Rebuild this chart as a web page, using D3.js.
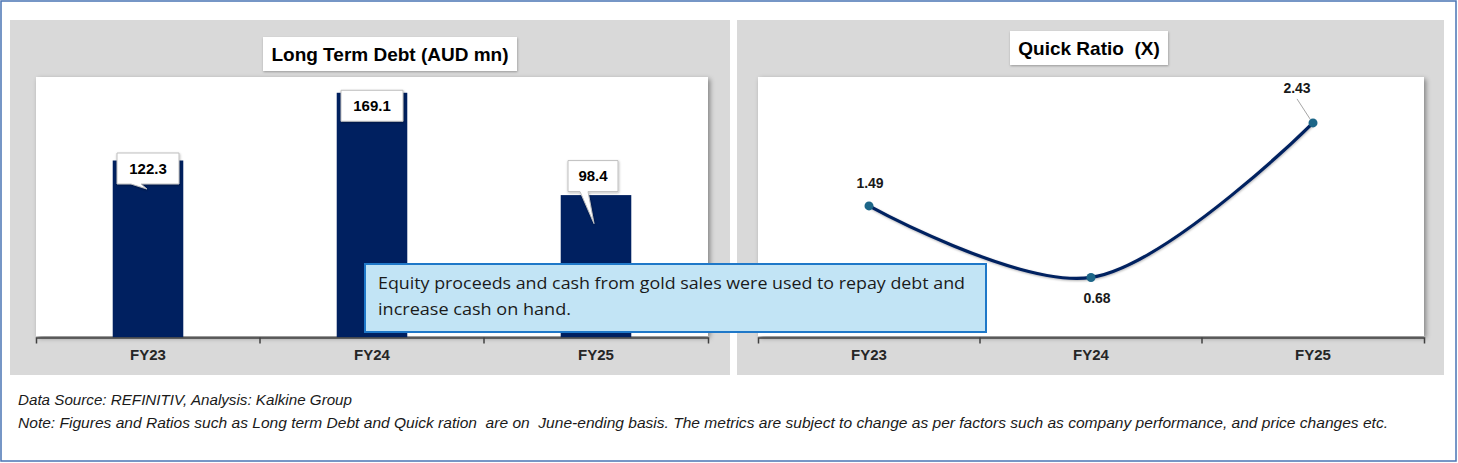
<!DOCTYPE html>
<html>
<head>
<meta charset="utf-8">
<script src="https://cdn.jsdelivr.net/npm/d3@7"></script>
<style>
  body { margin: 0; background: #fff; }
  svg { display: block; }
  text { white-space: pre; }
</style>
</head>
<body>
<svg id="chart"></svg>
<script>
// data
var years = ["FY23", "FY24", "FY25"];
var debt = [122.3, 169.1, 98.4];
var quick = [1.49, 0.68, 2.43];
var debtLabels = ["122.3", "169.1", "98.4"];
var quickLabels = ["1.49", "0.68", "2.43"];
var debtTitle = "Long Term Debt (AUD mn)";
var quickTitle = "Quick Ratio  (X)";
var noteLines = ["Equity proceeds and cash from gold sales were used to repay debt and",
                 "increase cash on hand."];
var footerLines = ["Data Source: REFINITIV, Analysis: Kalkine Group",
                   "Note: Figures and Ratios such as Long term Debt and Quick ration  are on  June-ending basis. The metrics are subject to change as per factors such as company performance, and price changes etc."];

var W = 1458, H = 463;
var narrow = "'Liberation Sans Narrow', 'Arial Narrow', 'Liberation Sans', sans-serif";
var sans = "'Liberation Sans', Arial, sans-serif";
var navy = "#002060";

var svg = d3.select("#chart").attr("width", W).attr("height", H);

// schaduw
var defs = svg.append("defs");
var f = defs.append("filter").attr("id", "shadow")
    .attr("x", "-5%").attr("y", "-5%").attr("width", "110%").attr("height", "115%");
f.append("feDropShadow").attr("dx", 2).attr("dy", 2).attr("stdDeviation", 2.5)
    .attr("flood-color", "#000").attr("flood-opacity", 0.4);
var f2 = defs.append("filter").attr("id", "soft")
    .attr("x", "-20%").attr("y", "-20%").attr("width", "140%").attr("height", "140%");
f2.append("feDropShadow").attr("dx", 0.5).attr("dy", 1).attr("stdDeviation", 1)
    .attr("flood-color", "#000").attr("flood-opacity", 0.3);

// rand van de afbeelding
svg.append("rect")
    .attr("x", 1).attr("y", 1).attr("width", W - 3).attr("height", H - 3)
    .attr("fill", "#fff").attr("stroke", "#4a74b4").attr("stroke-width", 1.5);

// panelen
var left = {gx: 10, gy: 20, gw: 720, gh: 355, px: 36, py: 77, pw: 672, ph: 259,
            tx: 263, ty: 37, tw: 254, th: 34};
var right = {gx: 737, gy: 20, gw: 707, gh: 355, px: 758, py: 77, pw: 666, ph: 259,
             tx: 1010, ty: 31, tw: 158, th: 34};
var axisY = 337.5;

function panel(p, title) {
  svg.append("rect").attr("x", p.gx).attr("y", p.gy).attr("width", p.gw).attr("height", p.gh)
      .attr("fill", "#d9d9d9");
  svg.append("rect").attr("x", p.px).attr("y", p.py).attr("width", p.pw).attr("height", p.ph)
      .attr("fill", "#fff").attr("filter", "url(#shadow)");
  svg.append("rect").attr("x", p.tx).attr("y", p.ty).attr("width", p.tw).attr("height", p.th)
      .attr("fill", "#fff").attr("filter", "url(#soft)");
  svg.append("text")
      .attr("x", p.tx + p.tw / 2).attr("y", p.ty + p.th / 2)
      .attr("dy", "0.36em")
      .attr("text-anchor", "middle")
      .attr("font-family", narrow).attr("font-weight", "bold").attr("font-size", 19)
      .attr("fill", "#000")
      .text(title);
}

function xAxis(x, p) {
  var g = svg.append("g")
      .attr("transform", "translate(0," + axisY + ")")
      .call(d3.axisBottom(x).tickSize(0).tickSizeOuter(6).tickPadding(12));
  g.select(".domain").attr("stroke", "#404040").attr("stroke-width", 1.5);
  g.selectAll("text")
      .attr("font-family", narrow).attr("font-weight", "bold").attr("font-size", 15)
      .attr("fill", "#262626");
  // ticks op de grenzen tussen categorieen
  g.selectAll(".grens")
      .data(years.slice(1))
      .enter().append("line")
      .attr("x1", function(d) { return x(d); })
      .attr("x2", function(d) { return x(d); })
      .attr("y1", 0).attr("y2", 6)
      .attr("stroke", "#404040").attr("stroke-width", 1.5);
}

// ---------- linker grafiek: staafdiagram ----------
panel(left, debtTitle);

var xL = d3.scaleBand().domain(years).range([left.px, left.px + left.pw]).padding(0);
var yL = d3.scaleLinear().domain([0, 180]).range([axisY, left.py]);
var barW = xL.bandwidth() * 0.315;

svg.selectAll(".bar")
    .data(debt)
    .enter().append("rect")
    .attr("class", "bar")
    .attr("x", function(d, i) { return xL(years[i]) + xL.bandwidth() / 2 - barW / 2; })
    .attr("y", function(d) { return yL(d); })
    .attr("width", barW)
    .attr("height", function(d) { return yL(0) - yL(d); })
    .attr("fill", navy);

xAxis(xL, left);

// data labels als tekstballon (handmatig geplaatst zoals in Excel)
var callout = [
  {dx: 0, dy: 8, w: 62, h: 31, tail: [14, 24, 30, 5]},
  {dx: 0, dy: 13, w: 62, h: 31, tail: null},
  {dx: -3, dy: -19, w: 50, h: 31, tail: [12, 20, 26, 32]}
];

debt.forEach(function(d, i) {
  var c = callout[i];
  var cx = xL(years[i]) + xL.bandwidth() / 2 + c.dx;
  var cy = yL(d) + c.dy;
  var x0 = cx - c.w / 2, x1 = cx + c.w / 2, y0 = cy - c.h / 2, y1 = cy + c.h / 2;
  var path;
  if (c.tail) {
    path = "M" + x0 + "," + y0 + "H" + x1 + "V" + y1 +
           "H" + (x0 + c.tail[1]) + "L" + (x0 + c.tail[2]) + "," + (y1 + c.tail[3]) +
           "L" + (x0 + c.tail[0]) + "," + y1 + "H" + x0 + "Z";
  } else {
    path = "M" + x0 + "," + y0 + "H" + x1 + "V" + y1 + "H" + x0 + "Z";
  }
  svg.append("path").attr("d", path)
      .attr("fill", "#fff").attr("stroke", "#bfbfbf").attr("stroke-width", 1)
      .attr("filter", "url(#soft)");
  svg.append("text")
      .attr("x", cx).attr("y", cy).attr("dy", "0.36em")
      .attr("text-anchor", "middle")
      .attr("font-family", sans).attr("font-weight", "bold").attr("font-size", 15)
      .attr("fill", "#000")
      .text(debtLabels[i]);
});

// ---------- rechter grafiek: lijn ----------
panel(right, quickTitle);

var xR = d3.scaleBand().domain(years).range([right.px, right.px + right.pw]).padding(0);
var yR = d3.scaleLinear().domain([0, 2.95]).range([axisY, right.py]);

var line = d3.line()
    .x(function(d, i) { return xR(years[i]) + xR.bandwidth() / 2; })
    .y(function(d) { return yR(d); })
    .curve(d3.curveCatmullRom.alpha(0.5));

svg.append("path")
    .datum(quick)
    .attr("d", line)
    .attr("fill", "none")
    .attr("stroke", navy)
    .attr("stroke-width", 3.2)
    .attr("stroke-linecap", "round")
    .attr("filter", "url(#soft)");

svg.selectAll(".dot")
    .data(quick)
    .enter().append("circle")
    .attr("class", "dot")
    .attr("cx", function(d, i) { return xR(years[i]) + xR.bandwidth() / 2; })
    .attr("cy", function(d) { return yR(d); })
    .attr("r", 4.5)
    .attr("fill", "#1d6688");

xAxis(xR, right);

// label posities t.o.v. het punt
var qOff = [[1, -23], [6, 21], [-16, -35]];

quick.forEach(function(d, i) {
  var px = xR(years[i]) + xR.bandwidth() / 2, py = yR(d);
  svg.append("text")
      .attr("x", px + qOff[i][0]).attr("y", py + qOff[i][1]).attr("dy", "0.36em")
      .attr("text-anchor", "middle")
      .attr("font-family", sans).attr("font-weight", "bold").attr("font-size", 14)
      .attr("fill", "#1a1a1a")
      .text(quickLabels[i]);
});

// leader line voor 2.43
var lx = xR(years[2]) + xR.bandwidth() / 2, ly = yR(quick[2]);
svg.append("line")
    .attr("x1", lx - 16).attr("y1", ly - 24)
    .attr("x2", lx - 3).attr("y2", ly - 4)
    .attr("stroke", "#a6a6a6").attr("stroke-width", 1);

// ---------- toelichting ----------
svg.append("rect")
    .attr("x", 365).attr("y", 264).attr("width", 621).attr("height", 68)
    .attr("fill", "#c2e4f5").attr("stroke", "#1f78c8").attr("stroke-width", 2);

svg.selectAll(".note")
    .data(noteLines)
    .enter().append("text")
    .attr("class", "note")
    .attr("x", 378)
    .attr("y", function(d, i) { return 289 + i * 26; })
    .attr("font-family", "'Open Sans', 'Noto Sans', sans-serif").attr("font-size", 16)
    .attr("fill", "#1a1a1a")
    .attr("textLength", function(d, i) { return i === 0 ? 587 : 193; })
    .attr("lengthAdjust", "spacingAndGlyphs")
    .text(function(d) { return d; });

// ---------- voetnoten ----------
svg.selectAll(".footer")
    .data(footerLines)
    .enter().append("text")
    .attr("class", "footer")
    .attr("x", 18)
    .attr("y", function(d, i) { return 405 + i * 23; })
    .attr("font-family", narrow).attr("font-style", "italic").attr("font-size", 15)
    .attr("fill", "#1a1a1a")
    .attr("textLength", function(d, i) { return i === 0 ? 334 : 1370; })
    .attr("lengthAdjust", "spacingAndGlyphs")
    .text(function(d) { return d; });
</script>
</body>
</html>
